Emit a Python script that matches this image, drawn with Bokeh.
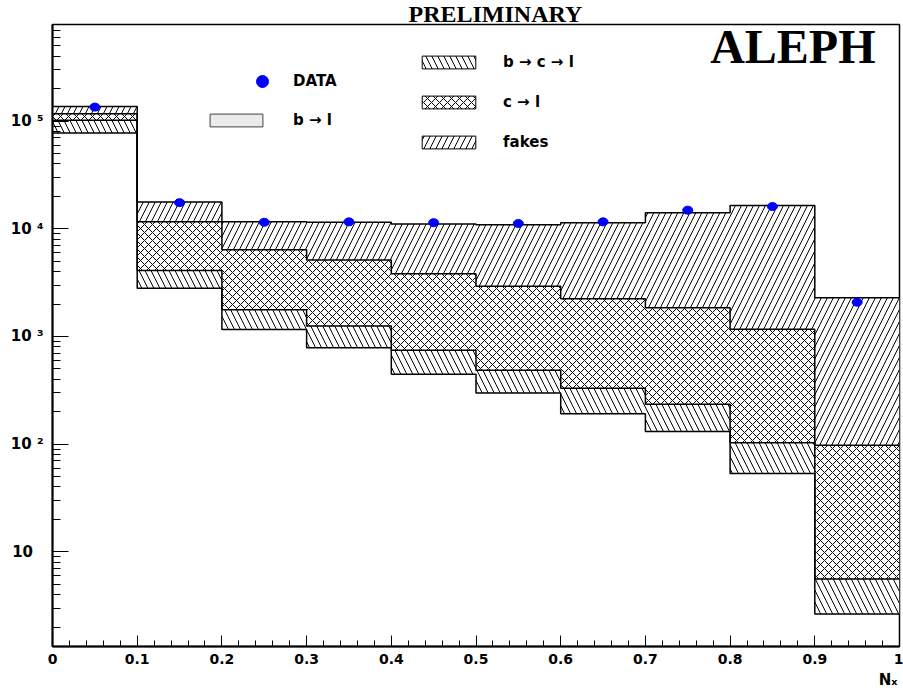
import numpy as np
from bokeh.plotting import figure
from bokeh.models import (Range1d, SingleIntervalTicker, LogTicker, CustomJSTickFormatter,
                          Legend, LegendItem, Label, Title)
from bokeh.embed import file_html
from bokeh.resources import INLINE

# ---------------- data ----------------
bin_edges = [0.0, 0.1, 0.2, 0.3, 0.4, 0.5, 0.6, 0.7, 0.8, 0.9, 1.0]
data_counts = [135000, 17500, 11500, 11600, 11400, 11200, 11600, 14900, 16100, 2080]
b_to_l = [77400, 2800, 1160, 787, 446, 299, 192, 131, 53.3, 2.64]
b_to_c_to_l = [24600, 1310, 610, 463, 299, 186, 138, 104, 49.7, 2.94]
c_to_l = [15000, 7490, 4630, 3880, 3085, 2445, 1910, 1615, 1067, 92.1]
fakes = [20000, 6100, 5200, 6370, 7270, 7970, 9160, 12250, 15330, 2192]

legend_labels = ["DATA", "b \u2192 l", "b \u2192 c \u2192 l", "c \u2192 l", "fakes"]
x_label = "N\u2093"
title_text = "PRELIMINARY"
exp_text = "ALEPH"

# ---------------- derived ----------------
edges = np.array(bin_edges)
centers = (edges[:-1] + edges[1:]) / 2
stack = np.cumsum(np.array([b_to_l, b_to_c_to_l, c_to_l, fakes], dtype=float), axis=0)


def ext(a):
    a = np.asarray(a, dtype=float)
    return np.append(a, a[-1])


# ---------------- figure ----------------
p = figure(width=903, height=693, x_range=Range1d(0, 1), y_range=Range1d(1.32, 7.9e5),
           y_axis_type="log", output_backend="svg", toolbar_location=None,
           min_border_left=52, min_border_right=4, min_border_top=0, min_border_bottom=47)
try:
    ttl = Title(text=title_text, align="left", offset=356, standoff=-4)
except Exception:
    ttl = Title(text=title_text, align="left", offset=356, standoff=0)
ttl.text_font = "Liberation Serif"
ttl.text_font_style = "bold"
ttl.text_font_size = "24px"
ttl.text_color = "black"
p.title = ttl
p.background_fill_color = "white"
p.border_fill_color = "white"
p.outline_line_color = "black"
p.outline_line_width = 1.5
p.xgrid.grid_line_color = None
p.ygrid.grid_line_color = None

# filled regions (b->c->l, c->l, fakes stacked on b->l)
specs = [("\\", 12), ("x", 8), ("/", 12)]
for i, (pat, sc) in enumerate(specs, start=1):
    p.varea_step(x=edges, y1=ext(stack[i - 1]), y2=ext(stack[i]), step_mode="after",
                 fill_color="white", hatch_pattern=pat,
                 hatch_color="black", hatch_scale=sc, hatch_weight=1)

# contours of the cumulative histograms
for i in range(4):
    p.step(x=edges, y=ext(stack[i]), mode="after", line_color="black", line_width=1.5)

# data points
p.ellipse(x=centers, y=data_counts, width=10, height=8, width_units="screen",
          height_units="screen", fill_color="blue", line_color="blue")

# ---------------- axes ----------------
p.xaxis.ticker = SingleIntervalTicker(interval=0.1, num_minor_ticks=5)
p.xaxis.formatter = CustomJSTickFormatter(code="return tick.toFixed(1).replace(/\\.0$/, '');")
p.yaxis.ticker = LogTicker(num_minor_ticks=10)
p.yaxis.formatter = CustomJSTickFormatter(code="""
const e = Math.round(Math.log10(tick));
const sup = "\u2070\u00b9\u00b2\u00b3\u2074\u2075\u2076\u2077\u2078\u2079";
if (e === 1) return "10\u2007";
if (e === 0) return "1";
return "10 " + String(e).split("").map((c) => sup[Number(c)]).join("");
""")
for ax in (p.xaxis, p.yaxis):
    ax.axis_line_width = 2
    ax.axis_line_color = "black"
    ax.major_tick_out = 0
    ax.minor_tick_out = 0
    ax.major_tick_line_color = "black"
    ax.minor_tick_line_color = "black"
    ax.major_label_text_font = "DejaVu Sans"
    ax.major_label_text_font_style = "bold"
    ax.major_label_text_color = "black"
p.xaxis.major_tick_in = 11
p.xaxis.minor_tick_in = 6
p.xaxis.major_label_text_font_size = "14px"
p.xaxis.major_label_standoff = 7
p.yaxis.major_tick_in = 16
p.yaxis.minor_tick_in = 8
p.yaxis.major_label_text_font_size = "15px"
p.yaxis.major_label_standoff = 9

# x-axis title at the right end, below the tick labels
p.add_layout(Title(text=x_label, align="right", offset=2, standoff=5,
                   text_font="DejaVu Sans", text_font_style="bold", text_font_size="15px",
                   text_color="black"), "below")

# ---------------- legends (hidden renderers for swatches) ----------------
nan = [np.nan]
r_data = p.scatter(x=nan, y=nan, marker="circle", size=12, fill_color="blue", line_color="blue")
r_bl = p.quad(left=nan, right=nan, bottom=nan, top=nan, fill_color="#ebebeb",
              line_color="#444444", line_width=1)
r_sw = []
for pat, sc in specs:
    r_sw.append(p.quad(left=nan, right=nan, bottom=nan, top=nan, fill_color="white",
                       line_color="black", line_width=1, hatch_pattern=pat,
                       hatch_color="black", hatch_scale=sc, hatch_weight=1))

common = dict(padding=0, margin=0, border_line_alpha=0, background_fill_alpha=0,
              label_text_font="DejaVu Sans", label_text_font_style="bold",
              label_text_font_size="15px", label_text_color="black")

lg_data = Legend(items=[LegendItem(label=legend_labels[0], renderers=[r_data])],
                 location=(195, 550), glyph_width=30, glyph_height=30, label_height=30,
                 label_standoff=16, spacing=0, **common)
lg_bl = Legend(items=[LegendItem(label=legend_labels[1], renderers=[r_bl])],
               location=(151, 517), glyph_width=66, glyph_height=16, label_height=18,
               label_standoff=24, spacing=0, **common)
lg_mc = Legend(items=[LegendItem(label=legend_labels[2 + i], renderers=[r_sw[i]]) for i in range(3)],
               location=(363, 495), glyph_width=67, glyph_height=16, label_height=18,
               label_standoff=21, spacing=22, **common)
for lg in (lg_data, lg_bl, lg_mc):
    p.add_layout(lg)

# ---------------- texts ----------------
p.add_layout(Label(x=823, y=600, x_units="screen", y_units="screen", text=exp_text,
                   text_font="Liberation Serif", text_font_style="bold", text_font_size="48px",
                   text_align="right", text_baseline="alphabetic", text_color="black"))

with open("out.html", "w", encoding="utf-8") as f:
    f.write(file_html(p, INLINE))
